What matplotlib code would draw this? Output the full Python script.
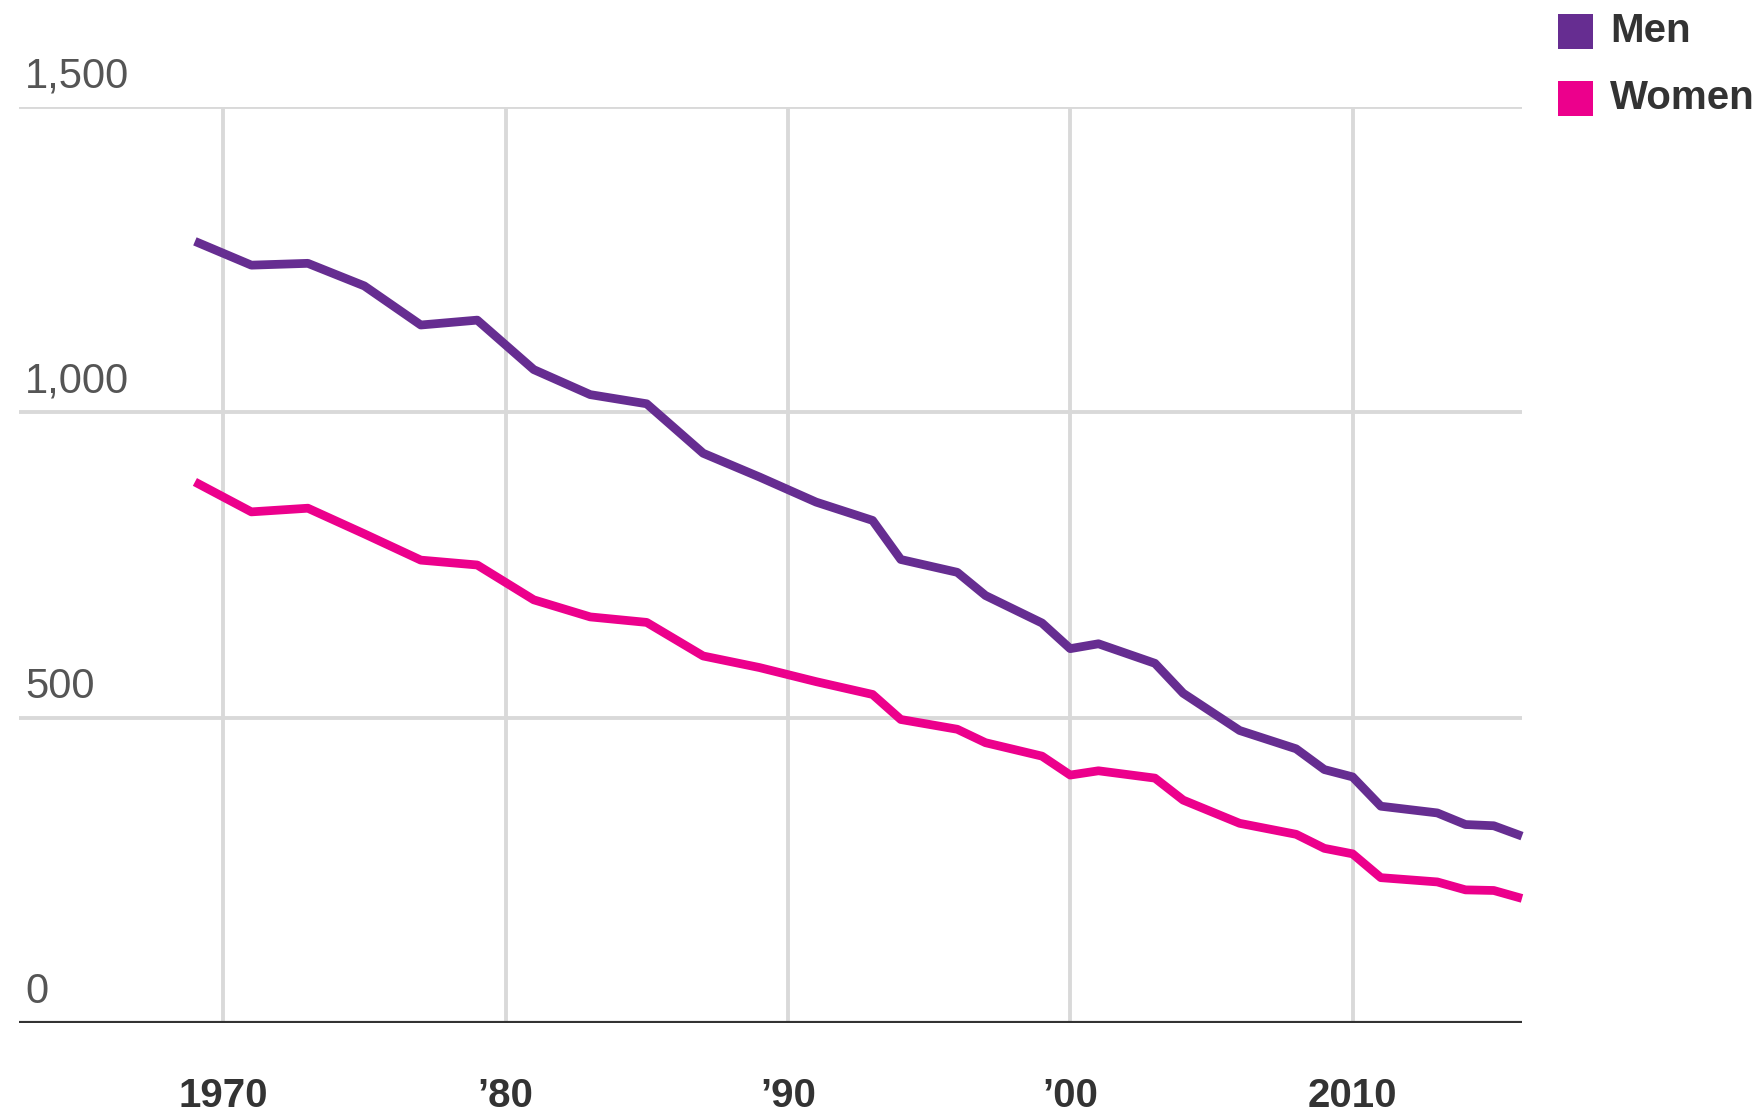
import matplotlib
matplotlib.use("Agg")
import matplotlib.pyplot as plt
from matplotlib.patches import Rectangle
from matplotlib.transforms import blended_transform_factory

plt.rcParams["font.family"] = ["Liberation Sans", "DejaVu Sans"]

# values (vertices of each line)
years = [1969, 1971, 1973, 1975, 1977, 1979, 1981, 1983, 1985, 1987,
         1989, 1991, 1993, 1994, 1996, 1997, 1999, 2000, 2001, 2003,
         2004, 2006, 2008, 2009, 2010, 2011, 2013, 2014, 2015, 2016]
men = [1280, 1241, 1244, 1207, 1143, 1151, 1070, 1029, 1014, 933,
       894, 853, 823, 759, 738, 700, 655, 613, 621, 589,
       540, 479, 449, 415, 403, 355, 344, 325, 323, 306]
women = [886, 837, 843, 801, 758, 750, 693, 665, 656, 601,
         582, 559, 538, 497, 481, 459, 437, 406, 413, 401,
         365, 327, 309, 286, 277, 238, 231, 218, 217, 204]

x_ticks = [1970, 1980, 1990, 2000, 2010]
x_labels = ["1970", "\u201980", "\u201990", "\u201900", "2010"]
y_ticks = [0, 500, 1000, 1500]
y_labels = ["0", "500", "1,000", "1,500"]

C_MEN = "#662D91"
C_WOMEN = "#EC008C"
GRID = "#D9D9D9"
TXT = "#333333"

W, H = 1765, 1114
fig = plt.figure(figsize=(W / 100, H / 100), dpi=100)
ax = fig.add_axes([19 / W, 1 - 1023 / H, (1522 - 19) / W, (1023 - 107) / H])

ax.set_xlim(1962.77, 2016)
ax.set_ylim(0, 1500)

for x in x_ticks:
    ax.axvline(x, color=GRID, lw=2.8, zorder=1)
for y in y_ticks[1:]:
    ax.axhline(y, color=GRID, lw=2.8, zorder=1)
ax.axhline(0, color=TXT, lw=3, zorder=2)

ax.plot(years, men, color=C_MEN, lw=6.3, solid_joinstyle="round",
        solid_capstyle="butt", clip_on=False, zorder=3)
ax.plot(years, women, color=C_WOMEN, lw=6.3, solid_joinstyle="round",
        solid_capstyle="butt", clip_on=False, zorder=3)

for s in ax.spines.values():
    s.set_visible(False)
ax.set_yticks([])
ax.set_xticks(x_ticks, x_labels)
ax.tick_params(axis="x", length=0, pad=39, labelsize=29, labelcolor=TXT)
for t in ax.get_xticklabels():
    t.set_fontweight("bold")

tr = blended_transform_factory(ax.transAxes, ax.transData)
for v, lab in zip(y_ticks, y_labels):
    ax.text(0.004, v + 32, lab, transform=tr, ha="left", va="baseline",
            fontsize=30, color="#555555")

# legend
for y0, lab, col, base in [(49, "Men", C_MEN, 42), (116, "Women", C_WOMEN, 109)]:
    fig.add_artist(Rectangle((1558 / W, 1 - y0 / H), 35 / W, 35 / H,
                             transform=fig.transFigure, color=col, lw=0))
    fig.text(1610 / W, 1 - base / H, lab, ha="left", va="baseline",
             fontsize=29, fontweight="bold", color=TXT)

fig.savefig("out.png", dpi=100)
